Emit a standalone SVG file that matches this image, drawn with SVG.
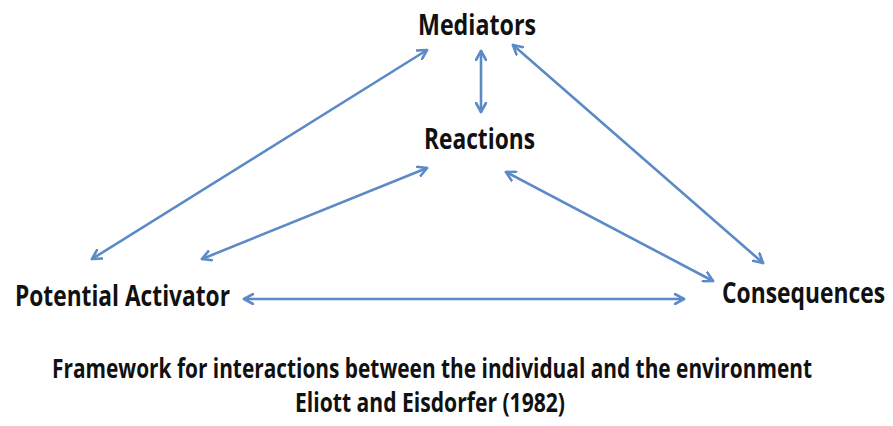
<svg xmlns="http://www.w3.org/2000/svg" width="893" height="426" viewBox="0 0 893 426">
  <style>
    .label { font-family: "Open Sans", "Liberation Sans", sans-serif; font-weight: 700; font-size: 28px; fill: #111; }
    .caption { font-family: "Open Sans", "Liberation Sans", sans-serif; font-weight: 700; font-size: 27px; fill: #111; }
    .link { stroke: #5b8ac6; stroke-width: 2.6; fill: none; stroke-linecap: round; }
  </style>
  <defs>
    <marker id="head" viewBox="0 0 12 12" refX="10" refY="6" markerWidth="12" markerHeight="12" markerUnits="userSpaceOnUse" orient="auto-start-reverse">
      <path d="M1,1 L10,6 L1,11" fill="none" stroke="#5b8ac6" stroke-width="2.6" stroke-linecap="round" stroke-linejoin="round"/>
    </marker>
  </defs>
  <rect width="893" height="426" fill="#fff"/>

  <!-- double-headed links between the four factors -->
  <g id="connectors">
    <line class="link" x1="427" y1="50" x2="92" y2="259" marker-start="url(#head)" marker-end="url(#head)"/>
    <line class="link" x1="481" y1="51" x2="481" y2="112" marker-start="url(#head)" marker-end="url(#head)"/>
    <line class="link" x1="513" y1="45" x2="763" y2="263" marker-start="url(#head)" marker-end="url(#head)"/>
    <line class="link" x1="427" y1="168" x2="202" y2="259" marker-start="url(#head)" marker-end="url(#head)"/>
    <line class="link" x1="506" y1="172" x2="713" y2="281" marker-start="url(#head)" marker-end="url(#head)"/>
    <line class="link" x1="244" y1="299" x2="684" y2="299" marker-start="url(#head)" marker-end="url(#head)"/>
  </g>

  <!-- labels are set in a narrowed bold sans (horizontal scale 0.8) -->
  <g id="mediators">
    <text class="label" transform="translate(418,35) scale(0.8,1)" textLength="147.5" lengthAdjust="spacingAndGlyphs">Mediators</text>
  </g>
  <g id="reactions">
    <text class="label" transform="translate(424,149) scale(0.8,1)" textLength="138.75" lengthAdjust="spacingAndGlyphs">Reactions</text>
  </g>
  <g id="potential-activator">
    <text class="label" transform="translate(15,306) scale(0.8,1)" textLength="268.75" lengthAdjust="spacingAndGlyphs">Potential Activator</text>
  </g>
  <g id="consequences">
    <text class="label" transform="translate(722,303) scale(0.8,1)" textLength="203.75" lengthAdjust="spacingAndGlyphs">Consequences</text>
  </g>

  <g id="caption">
    <text class="caption" transform="translate(52,378) scale(0.8,1)" textLength="950" lengthAdjust="spacingAndGlyphs">Framework for interactions between the individual and the environment</text>
    <text class="caption" transform="translate(295,412) scale(0.8,1)" textLength="337.5" lengthAdjust="spacingAndGlyphs">Eliott and Eisdorfer (1982)</text>
  </g>
</svg>
